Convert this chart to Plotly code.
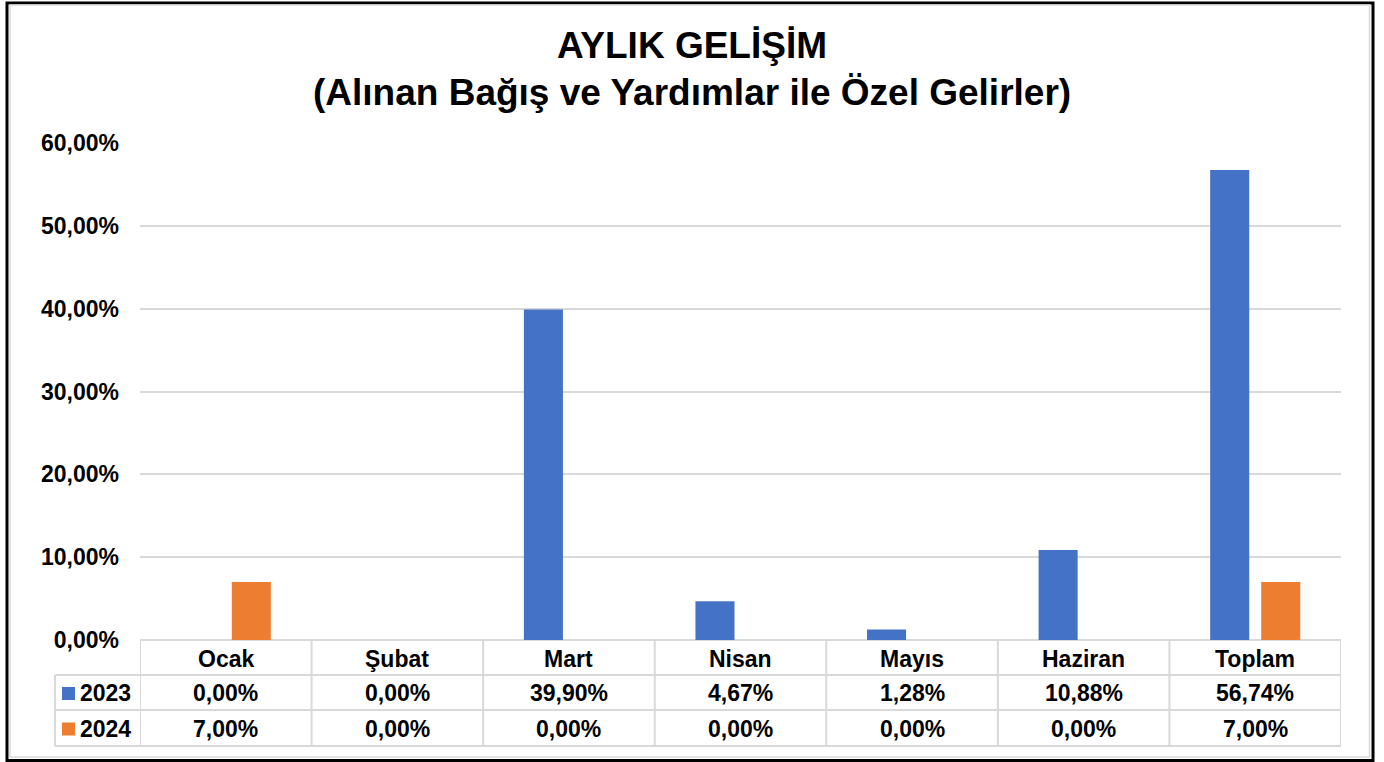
import plotly.graph_objects as go

categories = ["Ocak", "Şubat", "Mart", "Nisan", "Mayıs", "Haziran", "Toplam"]
series_names = ["2023", "2024"]
values_2023 = [0.00, 0.00, 39.90, 4.67, 1.28, 10.88, 56.74]
values_2024 = [7.00, 0.00, 0.00, 0.00, 0.00, 0.00, 7.00]
colors = ["#4472C4", "#ED7D31"]
tick_vals = [0, 10, 20, 30, 40, 50, 60]
tick_text = ["0,00%", "10,00%", "20,00%", "30,00%", "40,00%", "50,00%", "60,00%"]
title_line1 = "AYLIK GELİŞİM"
title_line2 = "(Alınan Bağış ve Yardımlar ile Özel Gelirler)"

W, H = 1384, 762
L, R, T, B = 140, 1341, 143, 640
FONT = "Liberation Sans, Arial, sans-serif"
GRID = "#D9D9D9"
FS = 23


def px(x):
    return (x - L) / (R - L)


def py(y):
    return (B - y) / (B - T)


def fmt(v):
    return f"{v:.2f}".replace(".", ",") + "%"


fig = go.Figure()
for name, vals, col in zip(series_names, [values_2023, values_2024], colors):
    fig.add_trace(go.Bar(x=categories, y=vals, name=name, marker=dict(color=col, line=dict(width=0))))

shapes = []
annotations = []

# table rows (pixel positions)
row_top, row_h1, row_h2, row_bot = 641, 675, 710, 746
key_left = 55
for yy in [row_h1, row_h2, row_bot]:
    shapes.append(dict(type="line", xref="paper", yref="paper", x0=px(key_left), x1=1, y0=py(yy), y1=py(yy),
                       line=dict(color=GRID, width=2)))
shapes.append(dict(type="line", xref="paper", yref="paper", x0=px(key_left), x1=px(key_left),
                   y0=py(row_h1), y1=py(row_bot), line=dict(color=GRID, width=2)))
for k in range(len(categories) + 1):
    xx = k - 0.5
    shapes.append(dict(type="line", xref="x", yref="paper", x0=xx, x1=xx, y0=py(row_top), y1=py(row_bot),
                       line=dict(color=GRID, width=2)))

row_centers = [(row_top + row_h1) / 2 + 1, (row_h1 + row_h2) / 2 + 0.5, (row_h2 + row_bot) / 2 + 0.5]
for c in categories:
    annotations.append(dict(x=c, y=py(row_centers[0]), xref="x", yref="paper", text=f"<b>{c}</b>", showarrow=False,
                            font=dict(family=FONT, size=FS, color="black"), xanchor="center", yanchor="middle"))
for r, (name, vals, col) in enumerate(zip(series_names, [values_2023, values_2024], colors)):
    yc = row_centers[r + 1]
    for c, v in zip(categories, vals):
        annotations.append(dict(x=c, y=py(yc), xref="x", yref="paper", text=f"<b>{fmt(v)}</b>", showarrow=False,
                                font=dict(family=FONT, size=FS, color="black"), xanchor="center", yanchor="middle"))
    shapes.append(dict(type="rect", xref="paper", yref="paper", x0=px(62), x1=px(75), y0=py(yc - 6), y1=py(yc + 7),
                       fillcolor=col, line=dict(width=0)))
    annotations.append(dict(x=px(78), y=py(yc), xref="paper", yref="paper", text=f"<b>{name}</b>", showarrow=False,
                            font=dict(family=FONT, size=FS, color="black"), xanchor="left", yanchor="middle"))

# titles
annotations.append(dict(x=(px(0) + px(W)) / 2, y=py(46), xref="paper", yref="paper", text=f"<b>{title_line1}</b>",
                        showarrow=False, font=dict(family=FONT, size=37, color="black"), xanchor="center", yanchor="middle"))
annotations.append(dict(x=(px(0) + px(W)) / 2, y=py(92), xref="paper", yref="paper", text=f"<b>{title_line2}</b>",
                        showarrow=False, font=dict(family=FONT, size=37, color="black"), xanchor="center", yanchor="middle"))

# outer frame
shapes.append(dict(type="rect", xref="paper", yref="paper", x0=px(7), x1=px(1373), y0=py(3), y1=py(760.5),
                   line=dict(color="black", width=3), fillcolor="rgba(0,0,0,0)"))
shapes.append(dict(type="rect", xref="paper", yref="paper", x0=px(10), x1=px(1369.5), y0=py(5), y1=py(757),
                   line=dict(color=GRID, width=1.5), fillcolor="rgba(0,0,0,0)"))

fig.update_layout(
    width=W, height=H,
    margin=dict(l=L, r=W - R, t=T, b=H - B, pad=0),
    paper_bgcolor="white", plot_bgcolor="white",
    showlegend=False,
    barmode="group", bargap=0.405, bargroupgap=0.235,
    font=dict(family=FONT, size=FS, color="black"),
    xaxis=dict(showticklabels=False, showline=False, showgrid=False, zeroline=False, ticks="",
               range=[-0.5, len(categories) - 0.5]),
    yaxis=dict(range=[0, 60], tickvals=tick_vals, ticktext=[f"<b>{t}</b>" for t in tick_text],
               showgrid=True, gridcolor=GRID, gridwidth=2, zeroline=True, zerolinecolor=GRID, zerolinewidth=2,
               showline=False, ticks="", ticklabelstandoff=20,
               tickfont=dict(family=FONT, size=FS, color="black")),
    shapes=shapes, annotations=annotations,
)

fig.write_html("out.html", config={"displayModeBar": False},
               post_script="document.body.style.margin='0';document.body.style.overflow='hidden';")
